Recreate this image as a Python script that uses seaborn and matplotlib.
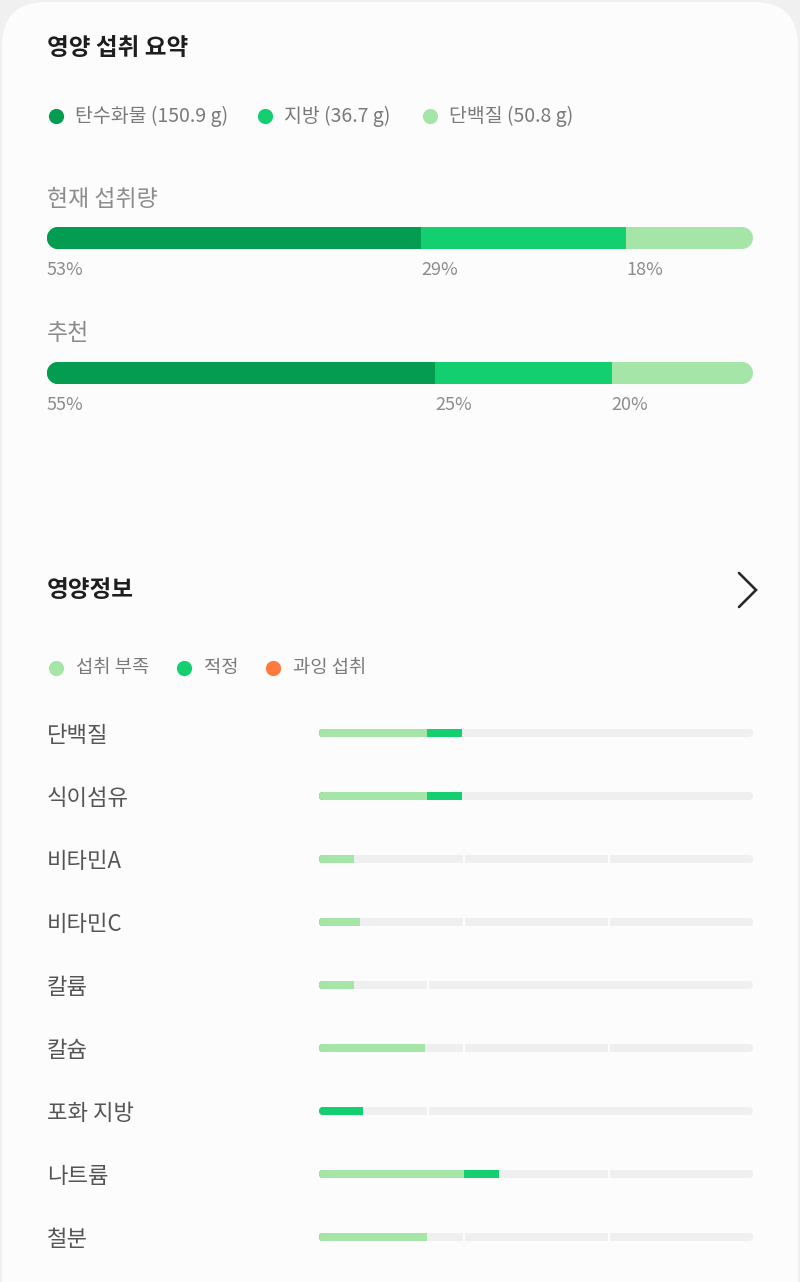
import numpy as np
import pandas as pd
import matplotlib
matplotlib.use("Agg")
import matplotlib.pyplot as plt
import seaborn as sns
from matplotlib.patches import FancyBboxPatch
from matplotlib.path import Path
from matplotlib.transforms import IdentityTransform

# ---------------- data ----------------
macro_names = ["탄수화물", "지방", "단백질"]
macro_grams = [150.9, 36.7, 50.8]
intake_rows = ["현재 섭취량", "추천"]
current_pct = [53, 29, 18]
recommended_pct = [55, 25, 20]
macro_colors = ["#049c50", "#13cf6f", "#a6e5a8"]

status_names = ["섭취 부족", "적정", "과잉 섭취"]
status_colors = ["#a6e5a8", "#13cf6f", "#ff7a3c"]

nutrients = ["단백질", "식이섬유", "비타민A", "비타민C", "칼륨", "칼슘", "포화 지방", "나트륨", "철분"]
deficient = [0.249, 0.249, 0.081, 0.094, 0.081, 0.244, 0.0, 0.333, 0.249]
adequate = [0.081, 0.081, 0.0, 0.0, 0.0, 0.0, 0.101, 0.081, 0.0]
excess = [0.0, 0.0, 0.0, 0.0, 0.0, 0.0, 0.0, 0.0, 0.0]
zone_breaks = [[0.25], [0.25], [0.335, 0.668], [0.335, 0.668], [0.25],
               [0.335, 0.668], [0.25], [0.335, 0.668], [0.335, 0.668]]

# ---------------- style ----------------
sns.set_theme(style="white")
plt.rcParams["font.family"] = ["Noto Sans CJK KR", "DejaVu Sans"]

W, H = 800, 1282
fig = plt.figure(figsize=(W / 100, H / 100), dpi=100)
fig.patch.set_facecolor("#f0f0f0")
CARD = "#fcfcfc"


def px_axes(x0, y0, x1, y1):
    return fig.add_axes([x0 / W, 1 - y1 / H, (x1 - x0) / W, (y1 - y0) / H])


def clean(ax):
    ax.set_facecolor("none")
    for s in ax.spines.values():
        s.set_visible(False)
    ax.set_xticks([])
    ax.set_xlabel("")
    ax.set_ylabel("")


def capsule(X0, Y0, X1, Y1):
    r = (Y1 - Y0) / 2
    cy = (Y0 + Y1) / 2
    a1 = Path.arc(90, 270)
    a2 = Path.arc(270, 450)
    v1 = a1.vertices * r + [X0 + r, cy]
    v2 = a2.vertices * r + [X1 - r, cy]
    c1 = a1.codes.copy()
    c2 = a2.codes.copy()
    c2[0] = Path.LINETO
    verts = np.vstack([v1, v2, v1[:1]])
    codes = np.concatenate([c1, c2, [Path.CLOSEPOLY]])
    return Path(verts, codes)


def round_clip(ax, patches, x_lo, x_hi):
    for p in patches:
        y0 = p.get_y()
        h = p.get_height()
        dx0, dy0 = ax.transData.transform((x_lo, y0))
        dx1, dy1 = ax.transData.transform((x_hi, y0 + h))
        X0, X1 = min(dx0, dx1), max(dx0, dx1)
        Y0, Y1 = min(dy0, dy1), max(dy0, dy1)
        p.set_clip_path(capsule(X0, Y0, X1, Y1), IdentityTransform())


bar_kw = dict(orient="h", saturation=1, errorbar=None, linewidth=0, edgecolor="none")

# ---------------- background card ----------------
bg = px_axes(0, 0, W, H)
bg.set_xlim(0, W)
bg.set_ylim(H, 0)
bg.axis("off")
bg.add_patch(FancyBboxPatch((2, 2), 796, 1330, boxstyle="round,pad=0,rounding_size=44",
                            fc=CARD, ec="none"))

# titles
bg.text(47, 48, "영양 섭취 요약", fontsize=17, fontweight="bold", color="#1e1e1e",
        ha="left", va="center")
bg.text(47, 590, "영양정보", fontsize=17, fontweight="bold", color="#1e1e1e",
        ha="left", va="center")
bg.plot([739, 756, 739], [573, 590, 607], color="#2a2a2a", lw=1.9,
        solid_capstyle="round", solid_joinstyle="miter")

# legend 1
for name, g, col, x in zip(macro_names, macro_grams, macro_colors, [56, 265, 430]):
    bg.scatter([x], [116], s=120, color=col, linewidths=0)
    bg.text(x + 19, 116, f"{name} ({g} g)", fontsize=14, color="#7a7a7a",
            ha="left", va="center")

# legend 2
for name, col, x in zip(status_names, status_colors, [56, 184, 273]):
    bg.scatter([x], [668], s=120, color=col, linewidths=0)
    bg.text(x + 20, 668, name, fontsize=13.5, color="#7a7a7a", ha="left", va="center")

# ---------------- macro bars ----------------
ax1 = px_axes(47, 220, 753, 392)
cum = np.cumsum(np.array([current_pct, recommended_pct]), axis=1)
for k in reversed(range(3)):
    sns.barplot(x=cum[:, k], y=intake_rows, color=macro_colors[k],
                width=22 / 135, ax=ax1, **bar_kw)
ax1.set_xlim(0, 100)
ax1.set_ylim(1 + 19 / 135, -18 / 135)
clean(ax1)
ax1.set_yticks([])
round_clip(ax1, ax1.patches, 0, 100)

for i, pcts in enumerate([current_pct, recommended_pct]):
    starts = np.concatenate([[0], np.cumsum(pcts)[:-1]])
    for s, p in zip(starts, pcts):
        ax1.annotate(f"{p}%", xy=(s, i), xytext=(0, -32), textcoords="offset pixels",
                     ha="left", va="center", fontsize=13, color="#8c8c8c")
    ax1.annotate(intake_rows[i], xy=(0, i), xytext=(0, 39), textcoords="offset pixels",
                 ha="left", va="center", fontsize=16.5, color="#8c8c8c")

# ---------------- nutrient bars ----------------
ax2 = px_axes(319, 701.5, 753, 1268.5)
bw = 8 / 63
df = pd.DataFrame({"nutrient": nutrients, "deficient": deficient,
                   "adequate": adequate, "excess": excess})
df["track"] = 1.0
df["c_adequate"] = df["deficient"] + df["adequate"]
df["c_excess"] = df["c_adequate"] + df["excess"]

sns.barplot(data=df, x="track", y="nutrient", color="#efefef",
            width=bw, ax=ax2, zorder=1, **bar_kw)
for i, breaks in enumerate(zone_breaks):
    ax2.vlines(breaks, i - bw / 2 - 0.01, i + bw / 2 + 0.01, color=CARD, lw=1.6, zorder=1.5)
sns.barplot(data=df, x="c_excess", y="nutrient", color=status_colors[2],
            width=bw, ax=ax2, zorder=3, **bar_kw)
sns.barplot(data=df, x="c_adequate", y="nutrient", color=status_colors[1],
            width=bw, ax=ax2, zorder=3, **bar_kw)
sns.barplot(data=df, x="deficient", y="nutrient", color=status_colors[0],
            width=bw, ax=ax2, zorder=3, **bar_kw)
ax2.set_xlim(0, 1)
ax2.set_ylim(8.5, -0.5)
clean(ax2)
round_clip(ax2, ax2.patches, 0, 1)
ax2.tick_params(axis="y", length=0, pad=(319 - 47) * 0.72)
for lab in ax2.get_yticklabels():
    lab.set_ha("left")
    lab.set_fontsize(16)
    lab.set_color("#555555")

fig.savefig("out.png", dpi=100, facecolor=fig.get_facecolor())
